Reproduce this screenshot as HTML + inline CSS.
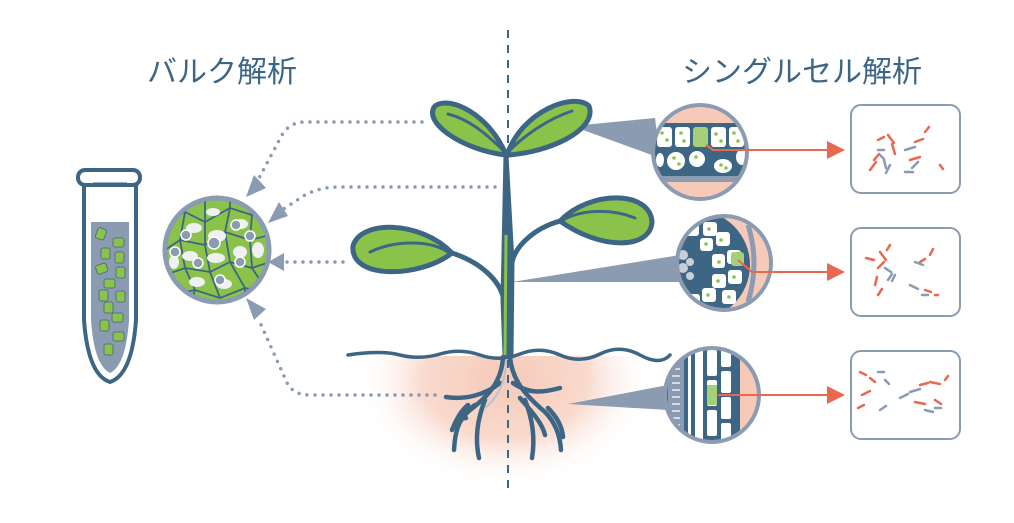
<!DOCTYPE html>
<html><head><meta charset="utf-8"><style>
html,body{margin:0;padding:0;background:#fff;width:1014px;height:523px;overflow:hidden}
svg{display:block}
text{font-family:"Liberation Sans","Noto Sans CJK JP",sans-serif}
</style></head><body>
<svg width="1014" height="523" viewBox="0 0 1014 523" xmlns="http://www.w3.org/2000/svg">
<defs>
<radialGradient id="soil" cx="505" cy="380" r="150" gradientUnits="userSpaceOnUse" gradientTransform="translate(505 380) scale(1 0.72) translate(-505 -380)">
<stop offset="0" stop-color="#f6c9b8"/><stop offset="0.55" stop-color="#f9dacd"/><stop offset="1" stop-color="#fff" stop-opacity="0"/></radialGradient>
<clipPath id="below"><rect x="300" y="356" width="420" height="160"/></clipPath>
<clipPath id="c1"><circle cx="700" cy="152" r="45"/></clipPath>
<clipPath id="c2"><circle cx="724" cy="263" r="45"/></clipPath>
<clipPath id="c3"><circle cx="712" cy="395" r="45"/></clipPath>
<clipPath id="cb"><circle cx="217" cy="250" r="50"/></clipPath>
</defs>
<text x="222" y="82" font-size="30" fill="#3d6685" text-anchor="middle">バルク解析</text>
<text x="802" y="82" font-size="30" fill="#3d6685" text-anchor="middle">シングルセル解析</text>
<ellipse cx="505" cy="380" rx="150" ry="108" fill="url(#soil)" clip-path="url(#below)"/>
<line x1="508" y1="30" x2="508" y2="495" stroke="#3d6685" stroke-width="2" stroke-dasharray="8,7"/>
<g fill="none" stroke="#8a9bb2" stroke-width="3.5" stroke-linecap="round" stroke-dasharray="0,8">
<path d="M422 122 L305 122 Q290 122 282 135 L258 180"/>
<path d="M495 187 L340 187 Q320 187 305 195 L282 210"/>
<path d="M343 262 L285 262"/>
<path d="M435 395 L310 395 Q295 395 288 385 L258 318"/>
</g>
<g fill="#8a9bb2">
<polygon points="246,197 254,175 266,188"/>
<polygon points="268,223 279,202 288,216"/>
<polygon points="268,262 284,253 284,271"/>
<polygon points="246,298 266,309 254,320"/>
</g>
<!-- tube -->
<path d="M84 185 L84 320 Q88 375 110 382 Q132 375 136 320 L136 185" fill="none" stroke="#3d6685" stroke-width="4"/>
<path d="M91 222 L129 222 L129 320 Q126 365 110 373 Q94 365 91 320 Z" fill="#8a9bb2"/>
<rect x="78" y="170" width="62" height="15" rx="7" fill="#fff" stroke="#3d6685" stroke-width="4"/>
<line x1="93" y1="184" x2="127" y2="184" stroke="#3d6685" stroke-width="3"/>
<g fill="#8bc34a" stroke="#3d6685" stroke-width="0.8">
<rect x="96" y="228" width="9" height="11" rx="2" transform="rotate(20 100 235)"/>
<rect x="113" y="238" width="11" height="9" rx="2"/>
<rect x="101" y="248" width="9" height="11" rx="2"/>
<rect x="115" y="252" width="9" height="11" rx="2"/>
<rect x="96" y="264" width="11" height="9" rx="2" transform="rotate(-20 102 268)"/>
<rect x="116" y="267" width="9" height="11" rx="2"/>
<rect x="104" y="279" width="11" height="9" rx="2"/>
<rect x="99" y="290" width="9" height="11" rx="2"/>
<rect x="116" y="291" width="9" height="11" rx="2"/>
<rect x="104" y="302" width="9" height="11" rx="2"/>
<rect x="112" y="313" width="11" height="9" rx="2"/>
<rect x="100" y="320" width="9" height="11" rx="2"/>
<rect x="113" y="332" width="11" height="9" rx="2"/>
<rect x="104" y="344" width="9" height="11" rx="2"/>
</g>
<!-- bulk circle -->
<circle cx="217" cy="250" r="52" fill="#8bc34a" stroke="#8a9bb2" stroke-width="5"/>
<g clip-path="url(#cb)">
<g fill="none" stroke="#3d6685" stroke-width="1.8">
<path d="M165 220 L185 212 L205 222 L230 208 L252 215 L270 210"/>
<path d="M165 250 L180 240 L205 245 L225 232 L250 240 L270 235"/>
<path d="M165 275 L185 268 L210 272 L230 262 L252 268 L270 262"/>
<path d="M170 295 L195 290 L220 298 L245 288 L268 292"/>
<path d="M185 200 L185 212 L180 240 L185 268 L195 290 L190 305"/>
<path d="M205 200 L205 222 L205 245 L210 272 L220 298"/>
<path d="M230 198 L230 208 L225 232 L230 262 L245 288 L245 305"/>
<path d="M252 205 L252 215 L250 240 L252 268 L268 292"/>
</g>
<g fill="#eef0f2">
<ellipse cx="194" cy="228" rx="8" ry="5"/><ellipse cx="217" cy="236" rx="9" ry="6"/><ellipse cx="241" cy="224" rx="7" ry="5"/>
<ellipse cx="190" cy="256" rx="8" ry="5"/><ellipse cx="216" cy="258" rx="9" ry="5"/><ellipse cx="240" cy="252" rx="7" ry="6"/>
<ellipse cx="197" cy="282" rx="8" ry="5"/><ellipse cx="224" cy="284" rx="8" ry="5"/><ellipse cx="258" cy="250" rx="6" ry="8"/>
<ellipse cx="174" cy="262" rx="5" ry="7"/><ellipse cx="213" cy="212" rx="7" ry="4"/>
</g>
<g fill="#8a9bb2" stroke="#fff" stroke-width="1.5">
<circle cx="186" cy="235" r="5"/><circle cx="214" cy="243" r="6"/><circle cx="236" cy="225" r="5"/><circle cx="250" cy="236" r="5"/>
<circle cx="175" cy="252" r="5"/><circle cx="198" cy="263" r="5"/><circle cx="240" cy="262" r="5"/><circle cx="220" cy="280" r="5"/>
</g>
</g>
<g fill="#8a9bb2">
<polygon points="572,126 655,118 660,158"/>
<polygon points="512,282 680,255 684,282"/>
<polygon points="568,404 668,385 668,410"/>
</g>
<!-- plant -->
<g stroke="#3d6685" stroke-width="5" stroke-linecap="round" stroke-linejoin="round">
<path d="M506 155 C490 115, 450 95, 435 106 C422 122, 462 150, 506 155 Z" fill="#8bc34a"/>
<path d="M507 155 C522 110, 575 92, 589 106 C598 130, 548 153, 507 155 Z" fill="#8bc34a"/>
<path d="M452 253 C420 220, 360 220, 353 246 C350 280, 420 278, 452 253 Z" fill="#8bc34a"/>
<path d="M560 221 C590 190, 650 190, 652 222 C650 250, 600 250, 560 221 Z" fill="#8bc34a"/>
<path d="M506 155 L503 300 L505 355 L511 355 L512 262 Z" fill="#3d6685"/>
<path d="M452 253 C480 262, 500 280, 504 300" fill="none"/>
<path d="M560 221 C535 228, 516 245, 512 262" fill="none"/>
<path d="M448 114 C472 120, 490 138, 503 150" fill="none" stroke-width="3"/>
<path d="M572 111 C545 120, 522 138, 510 150" fill="none" stroke-width="3"/>
<path d="M370 252 C395 240, 430 240, 448 252" fill="none" stroke-width="3"/>
<path d="M635 218 C610 208, 580 210, 563 220" fill="none" stroke-width="3"/>
</g>
<path d="M506 235 L505 355" stroke="#8bc34a" stroke-width="3"/>
<path d="M348 355 Q380 350 400 355 T440 354 T480 355 T520 354 T560 355 T600 354 T640 355 T670 355" fill="none" stroke="#3d6685" stroke-width="3.5" stroke-linecap="round"/>
<!-- roots -->
<g fill="none" stroke="#3d6685" stroke-width="4.5" stroke-linecap="round">
<path d="M503 357 C 502 380, 490 395, 470 410 C 458 420, 455 432, 454 450"/>
<path d="M510 357 C 512 380, 525 395, 545 412 C 555 422, 560 435, 561 450"/>
<path d="M500 383 C 485 395, 465 400, 446 397"/>
<path d="M513 383 C 530 395, 545 392, 560 388"/>
<path d="M485 400 C 477 420, 475 440, 479 458"/>
<path d="M525 400 C 533 420, 535 440, 532 458"/>
<path d="M468 405 C 460 412, 456 420, 452 430"/>
<path d="M548 408 C 556 416, 562 425, 563 437"/>
<path d="M475 405 C 465 412, 458 420, 466 418"/>
<path d="M520 398 C 530 410, 542 422, 545 435"/>
</g>
<path d="M506 360 C 506 385, 495 400, 485 408" stroke="#b5c3d3" stroke-width="2" fill="none"/>
<!-- circle 1 -->
<circle cx="700" cy="152" r="47" fill="#f6c9b8" stroke="#8a9bb2" stroke-width="4"/>
<g clip-path="url(#c1)">
<rect x="650" y="123" width="100" height="57" fill="#3d6685"/>
<g fill="#fff">
<rect x="657" y="127" width="15" height="20" rx="3"/><rect x="675" y="127" width="15" height="20" rx="3"/>
<rect x="711" y="127" width="15" height="20" rx="3"/><rect x="729" y="127" width="15" height="20" rx="3"/>
<ellipse cx="676" cy="161" rx="9" ry="9"/><ellipse cx="697" cy="159" rx="8" ry="8"/><ellipse cx="723" cy="166" rx="9" ry="7"/><ellipse cx="742" cy="157" rx="6" ry="8"/><ellipse cx="660" cy="160" rx="4" ry="7"/>
</g>
<rect x="693" y="127" width="15" height="20" rx="3" fill="#a6cf7a"/>
<g fill="#8bc34a"><circle cx="662" cy="133" r="1.8"/><circle cx="667" cy="140" r="1.8"/><circle cx="681" cy="133" r="1.8"/><circle cx="684" cy="141" r="1.8"/><circle cx="716" cy="134" r="1.8"/><circle cx="721" cy="141" r="1.8"/><circle cx="734" cy="133" r="1.8"/><circle cx="738" cy="141" r="1.8"/><circle cx="674" cy="158" r="1.8"/><circle cx="679" cy="164" r="1.8"/><circle cx="696" cy="157" r="1.8"/><circle cx="721" cy="165" r="1.8"/><circle cx="726" cy="168" r="1.8"/></g>
<rect x="650" y="176" width="100" height="6" fill="#8a9bb2"/>
</g>
<!-- circle 2 -->
<circle cx="724" cy="263" r="47" fill="#f6c9b8" stroke="#8a9bb2" stroke-width="4"/>
<g clip-path="url(#c2)">
<circle cx="695" cy="265" r="55" fill="#3d6685"/>
<g fill="#fff">
<rect x="685" y="222" width="14" height="14" rx="3"/><rect x="703" y="222" width="14" height="14" rx="3"/><rect x="716" y="232" width="14" height="14" rx="3"/>
<rect x="727" y="250" width="14" height="14" rx="3"/><rect x="712" y="254" width="13" height="14" rx="3"/><rect x="728" y="270" width="14" height="14" rx="3"/>
<rect x="712" y="274" width="14" height="14" rx="3"/><rect x="722" y="290" width="14" height="14" rx="3"/><rect x="702" y="288" width="14" height="14" rx="3"/><rect x="686" y="294" width="14" height="12" rx="3"/>
<rect x="700" y="238" width="13" height="13" rx="3"/>
</g>
<rect x="731" y="252" width="13" height="14" rx="3" fill="#a6cf7a"/>
<g fill="#c7cfd9"><circle cx="683" cy="255" r="5"/><circle cx="683" cy="268" r="5"/><circle cx="690" cy="262" r="4"/><circle cx="690" cy="276" r="4"/></g>
<g fill="#8bc34a"><circle cx="691" cy="228" r="1.8"/><circle cx="709" cy="229" r="1.8"/><circle cx="721" cy="240" r="1.8"/><circle cx="719" cy="262" r="1.8"/><circle cx="734" cy="277" r="1.8"/><circle cx="718" cy="281" r="1.8"/><circle cx="729" cy="297" r="1.8"/><circle cx="708" cy="295" r="1.8"/><circle cx="706" cy="244" r="1.8"/></g>
<rect x="755" y="215" width="20" height="100" fill="#f6c9b8"/>
<path d="M748 225 Q760 263 748 302" stroke="#8a9bb2" stroke-width="5" fill="none"/>
</g>
<!-- circle 3 -->
<circle cx="712" cy="395" r="47" fill="#f6c9b8" stroke="#8a9bb2" stroke-width="4"/>
<g clip-path="url(#c3)">
<rect x="662" y="345" width="78" height="100" fill="#3d6685"/>
<rect x="668" y="345" width="16" height="100" fill="#8a9bb2"/>
<g fill="none" stroke="#fff" stroke-width="1.2"><path d="M672 355 h8 M672 362 h8 M672 369 h8 M672 376 h8 M672 383 h8 M672 390 h8 M672 397 h8 M672 404 h8 M672 411 h8 M672 418 h8 M672 425 h8 M672 432 h8"/></g>
<rect x="688" y="345" width="3" height="100" fill="#fff"/>
<g fill="#fff"><rect x="707" y="350" width="10" height="26" rx="2"/><rect x="707" y="380" width="10" height="26" rx="2"/><rect x="707" y="410" width="10" height="26" rx="2"/>
<rect x="721" y="345" width="10" height="22" rx="2"/><rect x="721" y="371" width="10" height="22" rx="2"/><rect x="721" y="397" width="10" height="22" rx="2"/><rect x="721" y="423" width="10" height="22" rx="2"/><rect x="695" y="345" width="8" height="100"/></g>
<rect x="707" y="385" width="10" height="20" fill="#a6cf7a"/>
</g>
<g stroke="#e8694f" stroke-width="2" fill="none">
<path d="M706 145 L713 150 L830 150"/>
<path d="M738 260 L752 272 L830 272"/>
<path d="M718 395 L830 395"/>
</g>
<g fill="#e8694f">
<polygon points="827,141 845,150 827,159"/>
<polygon points="827,263 845,272 827,281"/>
<polygon points="827,386 845,395 827,404"/>
</g>
<g fill="#fff" stroke="#8a9bb2" stroke-width="2">
<rect x="851" y="105" width="109" height="88" rx="10"/>
<rect x="851" y="228" width="109" height="88" rx="10"/>
<rect x="851" y="351" width="109" height="88" rx="10"/>
</g>
<g stroke-width="2.5" stroke-linecap="round" fill="none">
<g stroke="#e8694f">
<path d="M878 140 l6 -3 M888 135 l6 8 M870 170 l6 -8 M874 160 l5 -6 M915 142 l8 -3 M925 132 l4 -5 M910 160 l10 -3 M940 165 l3 4 M892 144 l3 10"/>
<path d="M866 258 l8 2 M880 252 l6 8 M890 245 l-3 5 M875 285 l2 -8 M878 295 l4 -6 M930 255 l3 -6 M920 262 l5 -3 M925 290 l6 2 M935 295 l3 0 M884 262 l-6 6"/>
<path d="M860 372 l6 3 M870 378 l5 4 M862 395 l8 -4 M858 408 l6 -3 M920 385 l8 -2 M930 382 l10 2 M915 402 l10 2 M935 400 l6 4 M945 380 l3 -4"/>
</g>
<g stroke="#8a9bb2">
<path d="M878 150 l6 0 M884 160 l2 8 M890 165 l-4 8 M905 150 l10 -3 M912 168 l6 -6 M905 172 l8 0 M880 155 l4 4"/>
<path d="M885 268 l6 4 M888 280 l4 -6 M915 262 l8 3 M910 285 l8 4 M922 295 l6 0 M895 275 l-3 6"/>
<path d="M878 372 l6 0 M885 380 l4 4 M900 398 l8 -4 M910 392 l10 -3 M880 410 l6 -4 M925 410 l8 2 M935 408 l6 0"/>
</g>
</g>
</svg>
</body></html>
